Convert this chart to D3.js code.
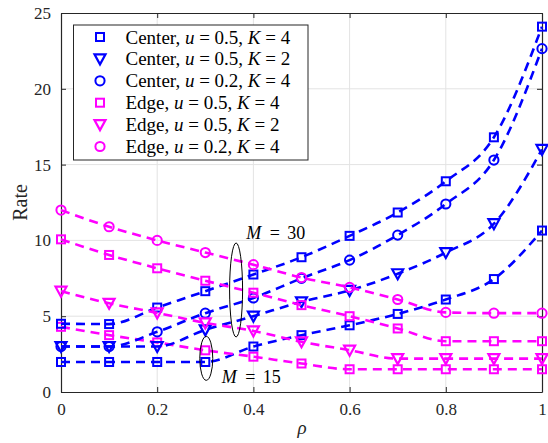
<!DOCTYPE html>
<html>
<head>
<meta charset="utf-8">
<script src="https://cdn.jsdelivr.net/npm/d3@7"></script>
<style>
  body { margin: 0; background: #fff; }
  text { font-family: "Liberation Serif", "DejaVu Serif", serif; }
</style>
</head>
<body>
<svg id="chart" width="548" height="443"></svg>
<script>

// rho values shared by all curves
var rho = [0, 0.1, 0.2, 0.3, 0.4, 0.5, 0.6, 0.7, 0.8, 0.9, 1]

// M = 30
var centerU05K4 = [4.5, 4.48, 5.57, 6.65, 7.75, 8.89, 10.3, 11.84, 13.9, 16.8, 24.1]
var centerU05K2 = [3.0, 3.0, 3.0, 4.1, 5.0, 5.95, 6.7, 7.8, 9.2, 11.1, 16.0]
var centerU02K4 = [3.0, 3.0, 3.97, 5.2, 6.2, 7.5, 8.7, 10.35, 12.4, 15.3, 22.65]
var edgeU05K4 = [10.07, 9.04, 8.16, 7.34, 6.55, 5.73, 5.0, 4.19, 3.35, 3.35, 3.35]
var edgeU05K2 = [6.65, 5.85, 5.22, 4.56, 4.03, 3.31, 2.76, 2.2, 2.2, 2.2, 2.2]
var edgeU02K4 = [12.0, 10.9, 10.0, 9.2, 8.4, 7.55, 6.9, 6.1, 5.25, 5.2, 5.2]
// M = 15
var centerU05K4m15 = [1.98, 1.98, 1.98, 1.98, 3.0, 3.75, 4.4, 5.15, 6.1, 7.45, 10.65]
var edgeU05K4m15 = [4.3, 3.75, 3.27, 2.75, 2.33, 1.88, 1.5, 1.5, 1.5, 1.5, 1.5]

var xTicks = [0, 0.2, 0.4, 0.6, 0.8, 1]
var yTicks = [0, 5, 10, 15, 20, 25]

var blue = "#0000ff", magenta = "#ff00ff"

var series = [
    { values: centerU05K4m15, color: blue, marker: "square" },
    { values: edgeU05K4m15, color: magenta, marker: "square" },
    { values: centerU05K4, color: blue, marker: "square" },
    { values: centerU05K2, color: blue, marker: "triangle" },
    { values: centerU02K4, color: blue, marker: "circle" },
    { values: edgeU05K4, color: magenta, marker: "square" },
    { values: edgeU05K2, color: magenta, marker: "triangle" },
    { values: edgeU02K4, color: magenta, marker: "circle" }
]

var legendItems = [
    { who: "Center", u: "0.5", K: "4", color: blue, marker: "square" },
    { who: "Center", u: "0.5", K: "2", color: blue, marker: "triangle" },
    { who: "Center", u: "0.2", K: "4", color: blue, marker: "circle" },
    { who: "Edge", u: "0.5", K: "4", color: magenta, marker: "square" },
    { who: "Edge", u: "0.5", K: "2", color: magenta, marker: "triangle" },
    { who: "Edge", u: "0.2", K: "4", color: magenta, marker: "circle" }
]

var svg = d3.select("#chart")
var margin = { top: 13, left: 61, bottom: 51, right: 6 }
var width = +svg.attr("width"), height = +svg.attr("height")

var x = d3.scaleLinear().domain([0, 1]).range([margin.left, width - margin.right])
var y = d3.scaleLinear().domain([0, 25]).range([height - margin.bottom, margin.top])

var axisColor = "#262626"

// grid
svg.append("g").selectAll("line").data(xTicks.slice(1, -1)).enter().append("line")
    .attr("x1", d => x(d)).attr("x2", d => x(d))
    .attr("y1", y(0)).attr("y2", y(25))
    .attr("stroke", "#e3e3e3").attr("stroke-width", 1)
svg.append("g").selectAll("line").data(yTicks.slice(1, -1)).enter().append("line")
    .attr("x1", x(0)).attr("x2", x(1))
    .attr("y1", d => y(d)).attr("y2", d => y(d))
    .attr("stroke", "#e3e3e3").attr("stroke-width", 1)

// axes, ticks inside, box on
function styleAxis(g) {
    g.select(".domain").attr("stroke", axisColor).attr("stroke-width", 1.2)
    g.selectAll(".tick line").attr("stroke", axisColor).attr("stroke-width", 1)
    g.selectAll(".tick text").attr("fill", "#262626")
        .style("font-family", "'Liberation Serif', serif").style("font-size", "17px")
}
var fmt = d => d === 0 || d === 1 ? String(d) : d3.format(".1f")(d)

svg.append("g").attr("transform", `translate(0,${y(0)})`)
    .call(d3.axisBottom(x).tickValues(xTicks).tickFormat(fmt).tickSizeInner(-5).tickSizeOuter(0).tickPadding(11))
    .call(styleAxis)
svg.append("g").attr("transform", `translate(0,${y(25)})`)
    .call(d3.axisTop(x).tickValues(xTicks).tickFormat("").tickSizeInner(-5).tickSizeOuter(0))
    .call(styleAxis)
svg.append("g").attr("transform", `translate(${x(0)},0)`)
    .call(d3.axisLeft(y).tickValues(yTicks).tickSizeInner(-5).tickSizeOuter(0).tickPadding(10))
    .call(styleAxis)
svg.append("g").attr("transform", `translate(${x(1)},0)`)
    .call(d3.axisRight(y).tickValues(yTicks).tickFormat("").tickSizeInner(-5).tickSizeOuter(0))
    .call(styleAxis)

// axis labels
svg.append("text")
    .attr("transform", `translate(27,${(y(0) + y(25)) / 2}) rotate(-90)`)
    .attr("text-anchor", "middle").style("font-size", "20px").attr("fill", "#262626")
    .text("Rate")
svg.append("text")
    .attr("x", 302).attr("y", 434)
    .attr("text-anchor", "middle").style("font-size", "19px").style("font-style", "italic").attr("fill", "#262626")
    .text("ρ")

// markers
function drawMarker(g, kind, color) {
    if (kind === "square") {
        g.append("rect").attr("x", -4).attr("y", -4).attr("width", 8).attr("height", 8)
            .attr("fill", "none").attr("stroke", color).attr("stroke-width", 2)
    } else if (kind === "circle") {
        g.append("circle").attr("r", 4.6)
            .attr("fill", "none").attr("stroke", color).attr("stroke-width", 2)
    } else {
        g.append("path").attr("d", "M-5.5,-4.5L5.5,-4.5L0,5.5Z")
            .attr("fill", "none").attr("stroke", color).attr("stroke-width", 2.2)
            .attr("stroke-linejoin", "miter")
    }
}

var line = d3.line()
    .x((d, i) => x(rho[i]))
    .y(d => y(d))
    .curve(d3.curveMonotoneX)

series.forEach(function (s) {
    var g = svg.append("g")
    g.append("path")
        .attr("d", line(s.values))
        .attr("fill", "none")
        .attr("stroke", s.color)
        .attr("stroke-width", 2.6)
        .attr("stroke-dasharray", "9,6")
    s.values.forEach(function (v, i) {
        var m = g.append("g").attr("transform", `translate(${x(rho[i])},${y(v)})`)
        drawMarker(m, s.marker, s.color)
    })
})

// ellipses and M labels
var ellipses = [
    { cx: 0.364, cy: 6.73, ry: 3.1, label: "30", lx: 0.385, ly: 10.1 },
    { cx: 0.302, cy: 2.22, ry: 1.45, label: "15", lx: 0.334, ly: 0.58 }
]
ellipses.forEach(function (e) {
    svg.append("ellipse")
        .attr("cx", x(e.cx)).attr("cy", y(e.cy))
        .attr("rx", 6.5).attr("ry", y(0) - y(e.ry))
        .attr("fill", "none").attr("stroke", "#000").attr("stroke-width", 1)
    var t = svg.append("text").attr("x", x(e.lx)).attr("y", y(e.ly))
        .style("font-size", "18px").attr("fill", "#000")
    t.append("tspan").style("font-style", "italic").text("M")
    t.append("tspan").attr("dx", 4).text(" = ")
    t.append("tspan").attr("dx", 3).text(e.label)
})

// legend
var legend = svg.append("g").attr("transform", "translate(73.5,25)")
legend.append("rect")
    .attr("width", 234.5).attr("height", 135)
    .attr("fill", "#fff").attr("stroke", "#262626").attr("stroke-width", 1)
legendItems.forEach(function (d, i) {
    var row = legend.append("g").attr("transform", `translate(0,${12 + i * 21.9})`)
    drawMarker(row.append("g").attr("transform", "translate(26.5,0)"), d.marker, d.color)
    var t = row.append("text").attr("x", 52).attr("y", 6.5)
        .style("font-size", "19px").attr("fill", "#000")
    t.append("tspan").text(d.who + ", ")
    t.append("tspan").style("font-style", "italic").text("u")
    t.append("tspan").text(" = " + d.u + ", ")
    t.append("tspan").style("font-style", "italic").text("K")
    t.append("tspan").text(" = " + d.K)
})

</script>
</body>
</html>
